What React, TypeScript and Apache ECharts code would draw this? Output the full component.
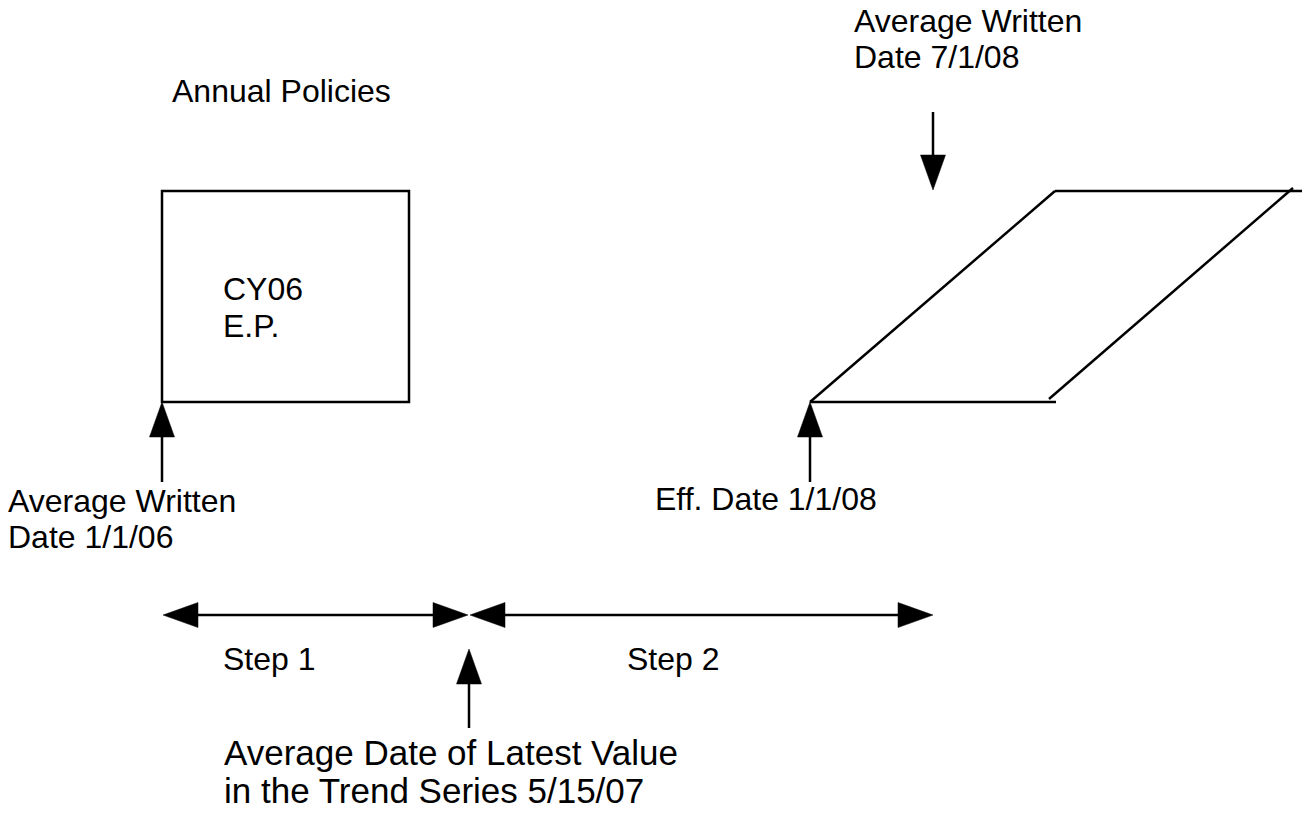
import React, { useEffect, useRef } from "react";
import * as echarts from "echarts";

// Text content of the diagram
const topRightLabel: string[] = ["Average Written", "Date 7/1/08"];
const titleLabel: string[] = ["Annual Policies"];
const boxLabel: string[] = ["CY06", "E.P."];
const leftDateLabel: string[] = ["Average Written", "Date 1/1/06"];
const effDateLabel: string[] = ["Eff. Date 1/1/08"];
const stepLabels: string[] = ["Step 1", "Step 2"];
const bottomLabel: string[] = ["Average Date of Latest Value", "in the Trend Series 5/15/07"];

const FAMILY = '"Liberation Sans", Arial, Helvetica, sans-serif';
const LW = 2.5;
const HEAD_LEN = 35;
const HEAD_HALF = 12.5;

function textLines(lines: string[], x: number, yMid: number, spacing: number, size = 32) {
  return lines.map((t, i) => ({
    type: "text",
    x,
    y: yMid + i * spacing,
    silent: true,
    style: {
      text: t,
      font: `${size}px ${FAMILY}`,
      fill: "#000",
      align: "left",
      verticalAlign: "middle",
    },
  }));
}

function line(x1: number, y1: number, x2: number, y2: number) {
  return {
    type: "line",
    silent: true,
    shape: { x1, y1, x2, y2 },
    style: { stroke: "#000", lineWidth: LW, lineCap: "butt" },
  };
}

function head(tx: number, ty: number, dir: "up" | "down" | "left" | "right") {
  let pts: number[][];
  if (dir === "up") pts = [[tx, ty], [tx - HEAD_HALF, ty + HEAD_LEN], [tx + HEAD_HALF, ty + HEAD_LEN]];
  else if (dir === "down") pts = [[tx, ty], [tx - HEAD_HALF, ty - HEAD_LEN], [tx + HEAD_HALF, ty - HEAD_LEN]];
  else if (dir === "left") pts = [[tx, ty], [tx + HEAD_LEN, ty - HEAD_HALF], [tx + HEAD_LEN, ty + HEAD_HALF]];
  else pts = [[tx, ty], [tx - HEAD_LEN, ty - HEAD_HALF], [tx - HEAD_LEN, ty + HEAD_HALF]];
  return {
    type: "polygon",
    silent: true,
    shape: { points: pts },
    style: { fill: "#000", stroke: "#000", lineWidth: 0.5 },
  };
}

function vArrowUp(x: number, tipY: number, endY: number) {
  return [line(x, tipY + HEAD_LEN - 1, x, endY), head(x, tipY, "up")];
}
function vArrowDown(x: number, startY: number, tipY: number) {
  return [line(x, startY, x, tipY - HEAD_LEN + 1), head(x, tipY, "down")];
}
function hDouble(x1: number, x2: number, y: number) {
  return [line(x1 + HEAD_LEN - 1, y, x2 - HEAD_LEN + 1, y), head(x1, y, "left"), head(x2, y, "right")];
}

export default function App() {
  const ref = useRef<HTMLDivElement>(null);
  useEffect(() => {
    if (!ref.current) return;
    const chart = echarts.init(ref.current, undefined, { renderer: "svg" });
    const elements: any[] = [
      // texts
      ...textLines(topRightLabel, 854, 20.5, 36.5),
      ...textLines(titleLabel, 172, 90.5, 36.5),
      ...textLines(boxLabel, 223, 288.5, 37),
      ...textLines(leftDateLabel, 8, 500.5, 36.5),
      ...textLines(effDateLabel, 655, 498.5, 36.5),
      ...textLines([stepLabels[0]], 223, 658.5, 36.5),
      ...textLines([stepLabels[1]], 627, 658.5, 36.5),
      ...textLines(bottomLabel, 224, 752.5, 38, 35),
      // square (annual policy)
      {
        type: "rect",
        silent: true,
        shape: { x: 162, y: 191, width: 247, height: 211 },
        style: { fill: "none", stroke: "#000", lineWidth: LW },
      },
      // parallelogram
      line(810, 402, 1055, 191),
      line(1055, 191, 1302, 191),
      line(1293, 188, 1049, 399),
      line(810, 402, 1056, 402),
      // arrows
      ...vArrowUp(162, 402, 482),
      ...vArrowUp(810, 402, 482),
      ...vArrowDown(933, 112, 190),
      ...hDouble(163, 468, 615),
      ...hDouble(470, 933, 615),
      ...vArrowUp(469, 649, 728),
    ];
    chart.setOption({
      animation: false,
      backgroundColor: "#fff",
      graphic: { elements },
    });
    return () => chart.dispose();
  }, []);
  return (
    <div
      ref={ref}
      style={{ position: "fixed", left: 0, top: 0, width: 1304, height: 818, background: "#fff" }}
    />
  );
}
